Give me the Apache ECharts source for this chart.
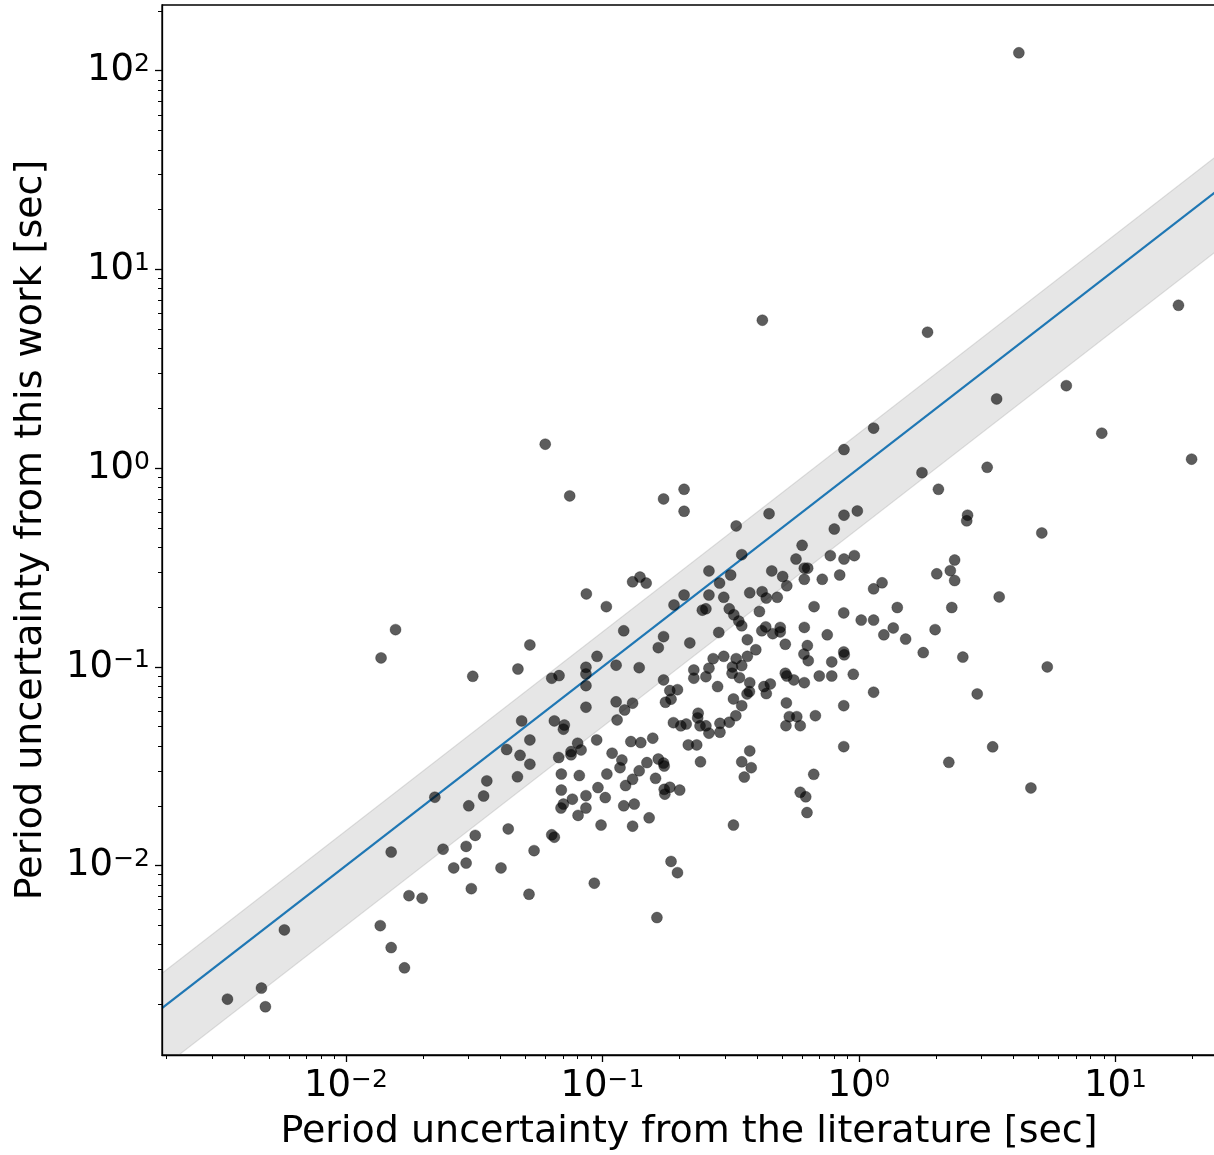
<!DOCTYPE html>
<html>
<head>
<meta charset="utf-8">
<title>Period uncertainty comparison</title>
<script src="https://cdn.jsdelivr.net/npm/echarts@6/dist/echarts.min.js"></script>
<style>
  html, body { margin: 0; padding: 0; background: #fff; }
  #chart { width: 1214px; height: 1155px; }
</style>
</head>
<body>
<div id="chart"></div>
<script>
// period uncertainty from the literature [sec]
const litUnc = [
  4.2, 1.85, 17.6, 6.43, 3.44, 8.84, 19.8, 3.16, 1.76,
  0.0156, 0.0137, 0.0312, 0.0423, 0.0477, 0.0466, 0.0354, 0.0344, 0.0222, 0.0301,
  0.0429, 0.0319, 0.0294, 0.0239, 0.015, 0.0263, 0.0294, 0.0402, 0.0308, 0.0176,
  0.0198, 0.00575, 0.0136, 0.015, 0.0169, 0.00468, 0.00345, 0.00485,
  0.42, 0.0598, 0.0745, 0.173, 0.208, 0.208, 1.14, 0.874, 0.446, 0.332, 0.874, 0.985, 0.801,
  0.0865, 0.1035, 0.131, 0.14, 0.148, 0.208, 0.19, 0.0521, 0.121, 0.173,
  0.165, 0.219, 0.0468, 0.0634, 0.0677, 0.0952, 0.0862, 0.0862, 0.0862, 0.113,
  0.139, 0.227, 0.227, 0.173, 0.183, 0.196, 0.176, 0.185, 0.0862, 0.113,
  0.122, 0.131,
  0.60, 0.349, 0.568, 0.773, 0.874, 0.959, 0.26, 0.316, 0.457, 0.504,
  0.612, 0.631, 0.612, 0.719, 0.841, 0.523, 0.286, 1.23, 1.14, 0.26,
  0.297, 0.375, 0.419, 0.435, 0.48, 0.668, 0.245, 0.253, 0.312, 0.325,
  0.409, 0.872, 1.02, 1.14, 0.34, 0.349, 0.284, 0.433, 0.418, 0.461,
  0.493, 0.493, 0.612, 0.752, 1.25, 0.367, 0.516, 0.396, 0.629, 0.61,
  0.872, 0.876, 0.297, 0.27, 0.332, 0.367, 0.634, 0.783, 0.321, 0.349,
  0.26, 0.253, 0.32, 0.342, 0.516, 0.523, 0.557, 0.612, 0.70, 0.783,
  0.95, 0.375, 0.281, 0.426, 0.451, 0.374, 0.366, 0.435, 1.14, 0.324,
  0.349, 0.521, 0.872, 0.236, 0.235, 0.331, 0.535, 0.572, 0.676,
  0.0484, 0.0649, 0.071, 0.0704, 0.114, 0.189, 0.202, 0.212, 0.0521, 0.0521,
  0.0675, 0.08, 0.0825, 0.0754, 0.0754, 0.0949, 0.129, 0.141, 0.157, 0.216,
  0.233, 0.241, 0.109, 0.119, 0.117, 0.149, 0.165, 0.173, 0.174, 0.139,
  0.0691, 0.0812, 0.104, 0.131, 0.161, 0.123, 0.096, 0.0691, 0.0862, 0.1025,
  0.174, 0.183, 0.175, 0.2, 0.0763, 0.0704, 0.0689, 0.0862, 0.121, 0.133,
  0.0803, 0.152, 0.0987, 0.131, 0.0634, 0.0649, 0.0541, 0.185, 0.196, 0.0929,
  0.0517, 0.163,
  0.24, 0.253, 0.26, 0.287, 0.287, 0.312, 0.519, 0.59, 0.375, 0.349,
  0.38, 0.357, 0.872, 0.666, 0.59, 0.62, 0.627, 0.324,
  2.04, 2.65, 2.63, 5.16, 2.36, 2.27, 2.01, 2.36, 3.52, 1.41,
  2.3, 1.36, 1.52, 1.98, 1.78, 2.54, 5.42, 2.89, 3.32, 2.24, 4.68
];

// period uncertainty from this work [sec]
const workUnc = [
  123, 4.83, 6.6, 2.6, 2.23, 1.5, 1.11, 1.01, 0.949,
  0.154, 0.111, 0.0897, 0.0384, 0.0359, 0.028, 0.0267, 0.0224, 0.0221, 0.02,
  0.0153, 0.0142, 0.0125, 0.0121, 0.0117, 0.00974, 0.0103, 0.00974, 0.00766, 0.00706,
  0.00686, 0.00475, 0.00499, 0.00387, 0.00306, 0.00242, 0.00213, 0.00195,
  5.55, 1.32, 0.725, 0.70, 0.783, 0.607, 1.59, 1.24, 0.59, 0.512, 0.58, 0.609, 0.494,
  0.233, 0.201, 0.268, 0.283, 0.264, 0.23, 0.205, 0.129, 0.152, 0.142,
  0.125, 0.132, 0.0976, 0.0877, 0.0904, 0.113, 0.0996, 0.0921, 0.0805, 0.102,
  0.0991, 0.0965, 0.0877, 0.086, 0.076, 0.0768, 0.0664, 0.0688, 0.0627, 0.0667,
  0.0607, 0.0657,
  0.409, 0.367, 0.349, 0.363, 0.349, 0.363, 0.304, 0.29, 0.304, 0.285,
  0.314, 0.314, 0.276, 0.276, 0.29, 0.256, 0.264, 0.265, 0.247, 0.23,
  0.224, 0.236, 0.239, 0.222, 0.224, 0.201, 0.193, 0.196, 0.196, 0.183,
  0.19, 0.187, 0.172, 0.172, 0.17, 0.161, 0.149, 0.159, 0.152, 0.147,
  0.158, 0.15, 0.158, 0.145, 0.145, 0.137, 0.13, 0.122, 0.128, 0.116,
  0.119, 0.115, 0.113, 0.11, 0.11, 0.113, 0.1075, 0.106, 0.1, 0.1015,
  0.0985, 0.0893, 0.0929, 0.0883, 0.0929, 0.09, 0.086, 0.0833, 0.09, 0.09,
  0.0918, 0.0833, 0.0796, 0.0796, 0.0821, 0.0751, 0.0731, 0.0734, 0.0746, 0.069,
  0.0638, 0.0659, 0.0638, 0.0585, 0.0554, 0.0568, 0.0562, 0.0562, 0.0568,
  0.0535, 0.0535, 0.051, 0.0486, 0.0541, 0.0524, 0.0505, 0.0516, 0.0429, 0.0324,
  0.035, 0.0413, 0.0382, 0.0375, 0.0361, 0.0429, 0.0421, 0.0416, 0.0438, 0.0405,
  0.0405, 0.0333, 0.0368, 0.034, 0.0311, 0.033, 0.0344, 0.0328, 0.0317, 0.03,
  0.0289, 0.0284, 0.0289, 0.0272, 0.0275, 0.0253, 0.0247, 0.024, 0.0225, 0.022,
  0.0242, 0.0248, 0.0229, 0.024, 0.0216, 0.0204, 0.0195, 0.0195, 0.02, 0.0204,
  0.0179, 0.0174, 0.016, 0.0158, 0.0143, 0.0139, 0.0119, 0.0105, 0.00922, 0.00816,
  0.00718, 0.00548,
  0.0505, 0.0505, 0.0464, 0.052, 0.0469, 0.0527, 0.0506, 0.0506, 0.0378, 0.0333,
  0.0311, 0.0279, 0.0397, 0.0288, 0.0234, 0.0222, 0.0185, 0.016,
  0.783, 0.58, 0.543, 0.472, 0.345, 0.305, 0.294, 0.272, 0.225, 0.199,
  0.199, 0.157, 0.138, 0.154, 0.118, 0.112, 0.1, 0.0731, 0.0396, 0.0331, 0.0246
];

// axis ranges and tick values
const xRange = [0.001917, 24.65];
const yRange = [0.001115, 214];
const xMajorTicks = [0.01, 0.1, 1, 10];
const yMajorTicks = [0.01, 0.1, 1, 10, 100];
const minorSteps = [2, 3, 4, 5, 6, 7, 8, 9];
const decades = [0.001, 0.01, 0.1, 1, 10, 100];

// shaded band: 0.5x .. 1.5x around the one-to-one line
const bandFactors = [0.5, 1.5];

const minorTicks = [];
decades.forEach(d => minorSteps.forEach(k => minorTicks.push(+(k * d).toPrecision(3))));
const xMinorTicks = minorTicks.filter(v => v > xRange[0] && v < xRange[1]);
const yMinorTicks = minorTicks.filter(v => v > yRange[0] && v < yRange[1]);

const FONT = 'DejaVu Sans';

function powLabel(v) {
  const e = Math.round(Math.log10(v));
  return '{b|10}{s|' + (e < 0 ? '\u2212' + (-e) : e) + '}';
}

const labelRich = {
  b: { fontSize: 37, lineHeight: 37, fontFamily: FONT, color: '#000' },
  s: { fontSize: 25, lineHeight: 20, fontFamily: FONT, color: '#000', verticalAlign: 'top' }
};

function majorAxis(pos, range, ticks, name, gap, margin) {
  return {
    type: 'log',
    logBase: 10,
    position: pos,
    min: range[0],
    max: range[1],
    z: 5,
    name: name,
    nameLocation: 'middle',
    nameGap: gap,
    nameTextStyle: { fontSize: 38, lineHeight: 38, fontFamily: FONT, color: '#000' },
    axisLine: { show: true, onZero: false, lineStyle: { color: '#000', width: 1.3 } },
    axisTick: { show: true, length: 7, customValues: ticks, lineStyle: { color: '#000', width: 1.3 } },
    axisLabel: { show: true, customValues: ticks, margin: margin, formatter: powLabel, rich: labelRich },
    splitLine: { show: false },
    minorTick: { show: false }
  };
}

function minorAxis(pos, range, ticks) {
  return {
    type: 'log',
    logBase: 10,
    position: pos,
    offset: 0,
    min: range[0],
    max: range[1],
    z: 5,
    axisLine: { show: false, onZero: false },
    axisTick: { show: true, length: 4, customValues: ticks, lineStyle: { color: '#000', width: 1 } },
    axisLabel: { show: false },
    splitLine: { show: false }
  };
}

const chart = echarts.init(document.getElementById('chart'), null, { renderer: 'canvas' });

const option = {
  animation: false,
  backgroundColor: '#fff',
  textStyle: { fontFamily: FONT },
  grid: {
    left: 162,
    top: 5,
    right: -2,
    bottom: 100,
    containLabel: false,
    outerBoundsMode: 'none',
    show: true,
    borderColor: '#000',
    borderWidth: 1.3,
    backgroundColor: 'transparent'
  },
  xAxis: [
    majorAxis('bottom', xRange, xMajorTicks, 'Period uncertainty from the literature [sec]', 58, 13),
    minorAxis('bottom', xRange, xMinorTicks)
  ],
  yAxis: [
    majorAxis('left', yRange, yMajorTicks, 'Period uncertainty from this work [sec]', 112, 12),
    minorAxis('left', yRange, yMinorTicks)
  ],
  series: [
    {
      // shaded band
      type: 'custom',
      silent: true,
      z: 1,
      clip: true,
      data: [[xRange[0], xRange[1]]],
      renderItem: function (params, api) {
        const x0 = api.value(0);
        const x1 = api.value(1);
        const pts = [
          api.coord([x0, x0 * bandFactors[1]]),
          api.coord([x1, x1 * bandFactors[1]]),
          api.coord([x1, x1 * bandFactors[0]]),
          api.coord([x0, x0 * bandFactors[0]])
        ];
        const cs = params.coordSys;
        return {
          type: 'polygon',
          shape: { points: pts },
          style: { fill: 'rgba(128,128,128,0.2)', stroke: 'rgba(128,128,128,0.22)', lineWidth: 1.2 },
          clipPath: { type: 'rect', shape: { x: cs.x, y: cs.y, width: cs.width, height: cs.height } }
        };
      }
    },
    {
      // one-to-one line
      type: 'line',
      silent: true,
      z: 2,
      symbol: 'none',
      data: [[xRange[0], xRange[0]], [xRange[1], xRange[1]]],
      lineStyle: { color: '#1f77b4', width: 2.2 }
    },
    {
      type: 'scatter',
      silent: true,
      z: 3,
      symbol: 'circle',
      symbolSize: 11,
      data: litUnc.map((x, i) => [x, workUnc[i]]),
      itemStyle: { color: 'rgba(0,0,0,0.8)', borderColor: 'rgba(0,0,0,0.35)', borderWidth: 1 }
    }
  ]
};

chart.setOption(option);
</script>
</body>
</html>
